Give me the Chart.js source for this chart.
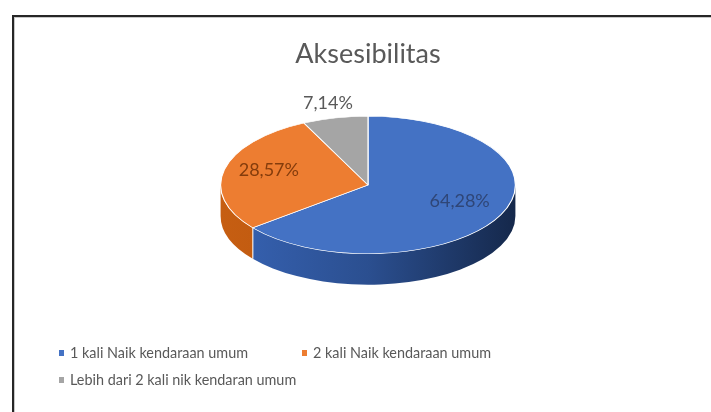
<!DOCTYPE html>
<html><head><meta charset="utf-8">
<script src="https://cdn.jsdelivr.net/npm/chart.js@4.4.0/dist/chart.umd.min.js"></script>
<style>html,body{margin:0;padding:0;background:#fff;} #wrap{position:relative;width:711px;height:412px;}</style>
</head><body><div id="wrap"><canvas id="c" width="711" height="412"></canvas></div>
<script>
const chartTitle = 'Aksesibilitas';
const categories = ['1 kali Naik kendaraan umum', '2 kali Naik kendaraan umum', 'Lebih dari 2 kali nik kendaran umum'];
const values = [64.28, 28.57, 7.14];
const colors = ['#4472C4', '#ED7D31', '#A5A5A5'];
const labelColors = ['#2F4677', '#843C0C', '#595959'];

const fmt = v => v.toFixed(2).replace('.', ',') + '%';

const TILT = 0.466;     // vertical squash of the disc
const TOP_CY = 185;     // screen y of the disc centre
const DEPTH = 31;       // thickness of the disc
const FONT = 'Lato, "Open Sans", sans-serif';

const sideGradients = {
  0: ['#3763B4', '#2B4F90', '#15284B'],
  1: ['#C65E12', '#B8550E', '#A84C0B'],
  2: ['#8A8A8A', '#7A7A7A', '#6A6A6A']
};

const frame = {
  id: 'frame',
  beforeDraw(chart) {
    const ctx = chart.ctx;
    ctx.save();
    ctx.fillStyle = '#fff';
    ctx.fillRect(0, 0, chart.width, chart.height);
    ctx.fillStyle = '#262626';
    ctx.fillRect(12, 15, chart.width - 12, 2);
    ctx.fillRect(12, 15, 2, chart.height - 15);
    ctx.fillStyle = '#C8C8C8';
    ctx.fillRect(14, 17, chart.width - 14, 1);
    ctx.fillRect(14, 17, 1, chart.height - 17);
    ctx.restore();
  }
};

const pie3d = {
  id: 'pie3d',
  beforeDatasetsDraw(chart) {
    const ctx = chart.ctx;
    const arcs = chart.getDatasetMeta(0).data;
    if (!arcs.length) return;
    const cx = arcs[0].x, cy = arcs[0].y, r = arcs[0].outerRadius;
    const ry = r * TILT;
    ctx.save();
    arcs.forEach((arc, i) => {
      [[0, Math.PI], [2 * Math.PI, 3 * Math.PI]].forEach(([lo, hi]) => {
        const s = Math.max(arc.startAngle, lo), e = Math.min(arc.endAngle, hi);
        if (e <= s) return;
        const g = ctx.createLinearGradient(cx - r, 0, cx + r, 0);
        const st = sideGradients[i];
        g.addColorStop(0, st[0]); g.addColorStop(0.5, st[1]); g.addColorStop(1, st[2]);
        ctx.beginPath();
        ctx.ellipse(cx, TOP_CY, r, ry, 0, s, e);
        ctx.ellipse(cx, TOP_CY + DEPTH, r, ry, 0, e, s, true);
        ctx.closePath();
        ctx.fillStyle = g;
        ctx.fill();
        ctx.strokeStyle = 'rgba(255,255,255,0.8)';
        ctx.lineWidth = 1;
        [s, e].forEach(a => {
          if (a > lo + 0.001 && a < hi - 0.001) {
            const x = cx + r * Math.cos(a), y = TOP_CY + ry * Math.sin(a);
            ctx.beginPath(); ctx.moveTo(x, y); ctx.lineTo(x, y + DEPTH); ctx.stroke();
          }
        });
      });
    });
    ctx.restore();
    ctx.save();
    ctx.translate(0, TOP_CY);
    ctx.scale(1, TILT);
    ctx.translate(0, -cy);
  },
  afterDatasetsDraw(chart) {
    const ctx = chart.ctx;
    ctx.restore();
    const arcs = chart.getDatasetMeta(0).data;
    if (!arcs.length) return;
    ctx.save();
    ctx.font = '18px ' + FONT;
    ctx.textAlign = 'center';
    ctx.textBaseline = 'middle';
    const total = values.reduce((a, b) => a + b, 0);
    arcs.forEach((arc, i) => {
      const mid = (arc.startAngle + arc.endAngle) / 2;
      const outside = values[i] / total < 0.1;
      const rr = arc.outerRadius * (outside ? 1.22 : 0.69);
      const x = arc.x + rr * Math.cos(mid);
      const y = TOP_CY + rr * Math.sin(mid) * TILT - (outside ? 0 : 4);
      ctx.fillStyle = labelColors[i];
      ctx.fillText(fmt(values[i]), x, y);
    });
    ctx.restore();
  }
};

const legendPlugin = {
  id: 'customLegend',
  afterDraw(chart) {
    const ctx = chart.ctx;
    const slots = [[59, 353], [302, 353], [59, 380]];
    ctx.save();
    ctx.font = '14.4px ' + FONT;
    ctx.textBaseline = 'middle';
    ctx.textAlign = 'left';
    chart.data.labels.forEach((lab, i) => {
      const [x, y] = slots[i];
      ctx.fillStyle = chart.data.datasets[0].backgroundColor[i];
      ctx.fillRect(x, y - 3, 5, 6);
      ctx.fillStyle = '#595959';
      ctx.fillText(lab, x + 11, y);
    });
    ctx.restore();
  }
};

new Chart(document.getElementById('c'), {
  type: 'pie',
  data: {
    labels: categories,
    datasets: [{
      data: values,
      backgroundColor: colors,
      borderColor: '#FFFFFF',
      borderWidth: 1.2,
      hoverOffset: 0,
      clip: false
    }]
  },
  options: {
    responsive: false,
    animation: false,
    events: [],
    layout: { padding: { top: 0, left: 220, right: 195, bottom: 30 } },
    plugins: {
      legend: { display: false },
      tooltip: { enabled: false },
      title: {
        display: true,
        text: chartTitle,
        color: '#595959',
        font: { family: FONT, size: 27, weight: 'normal' },
        padding: { top: 38, bottom: 0 }
      }
    }
  },
  plugins: [frame, pie3d, legendPlugin]
});
</script>
</body></html>
